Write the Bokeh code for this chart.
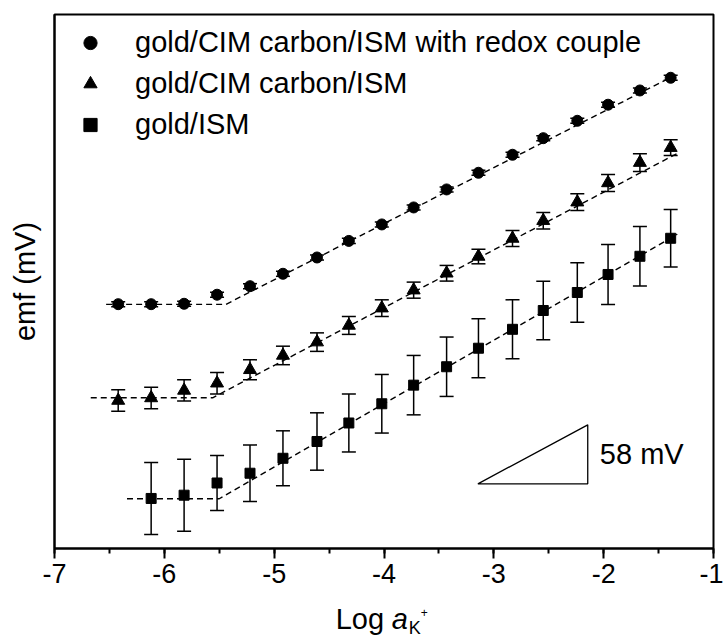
from bokeh.plotting import figure
from bokeh.layouts import column
from bokeh.core.properties import value
from bokeh.models import (ColumnDataSource, Whisker, TeeHead, Label, Legend, LegendItem,
                          Range1d, FixedTicker, SingleIntervalTicker)
from bokeh.embed import file_html
from bokeh.resources import INLINE

FONT = "Liberation Sans"

# ---- data (log a_K+ vs emf in mV, relative) ----
log_a_circle = [-6.42, -6.12, -5.82, -5.52, -5.22, -4.92, -4.61, -4.32, -4.02,
                -3.73, -3.43, -3.14, -2.83, -2.55, -2.24, -1.96, -1.67, -1.39]
emf_circle = [240.2, 240.2, 240.6, 249.5, 257.9, 270.1, 286.1, 302.4, 318.6,
              335.3, 353.0, 369.4, 387.1, 403.4, 420.5, 436.3, 450.3, 462.8]
err_circle = [2.5, 2.5, 2.5, 2.5, 2.5, 2.5, 2.5, 2.5, 2.5,
              2.5, 2.5, 2.5, 2.5, 2.5, 2.5, 2.5, 2.5, 2.5]

log_a_triangle = [-6.42, -6.12, -5.82, -5.52, -5.22, -4.92, -4.61, -4.32, -4.02,
                  -3.73, -3.43, -3.14, -2.83, -2.55, -2.24, -1.96, -1.67, -1.39]
emf_triangle = [145.5, 148.0, 155.4, 162.5, 175.7, 189.8, 202.9, 219.3, 236.3,
                254.0, 270.6, 287.1, 304.8, 322.3, 340.5, 359.4, 379.4, 394.1]
err_triangle = [10.5, 10.6, 10.5, 10.5, 9.8, 9.1, 9.1, 8.8, 8.2,
                7.9, 7.7, 7.2, 7.9, 8.1, 8.2, 8.4, 8.7, 7.7]

log_a_square = [-6.12, -5.82, -5.52, -5.22, -4.92, -4.61, -4.32, -4.02,
                -3.73, -3.43, -3.14, -2.83, -2.55, -2.24, -1.96, -1.67, -1.39]
emf_square = [49.2, 52.4, 64.4, 74.0, 88.7, 105.2, 123.4, 142.3,
              160.6, 178.7, 196.9, 215.5, 234.0, 251.7, 269.4, 287.3, 305.0]
err_square = [35.4, 35.4, 27.0, 27.8, 27.0, 28.2, 28.5, 28.8,
              29.2, 29.2, 29.0, 29.0, 28.8, 29.2, 29.5, 29.3, 28.3]

# fitted (dashed) lines: flat part then Nernstian part
fit_x_circle = [-6.53, -5.44, -1.35]
fit_y_circle = [240.0, 240.0, 465.4]
fit_x_triangle = [-6.67, -5.56, -1.33]
fit_y_triangle = [148.2, 148.2, 388.4]
fit_x_square = [-6.34, -5.50, -1.33]
fit_y_square = [48.9, 48.9, 309.0]

legend_labels = ["gold/CIM carbon/ISM with redox couple", "gold/CIM carbon/ISM", "gold/ISM"]
x_ticks = [-7, -6, -5, -4, -3, -2, -1]

# slope triangle: one decade wide, 58 mV tall
slope_x0 = -3.145
slope_y0 = 63.6
slope_dx = 1.0
slope_mv = 58.0

p = figure(width=723, height=600, x_range=Range1d(-7, -1), y_range=Range1d(0, 525),
           output_backend="svg", toolbar_location=None,
           min_border_left=54, min_border_right=10, min_border_top=14, min_border_bottom=52)
p.xgrid.visible = False
p.ygrid.visible = False
p.outline_line_color = "black"
p.outline_line_width = 2
p.outline_line_alpha = 1.0
p.background_fill_color = "white"
p.border_fill_color = "white"

# x axis
xa = p.xaxis[0]
xa.ticker = SingleIntervalTicker(interval=1, num_minor_ticks=2)
xa.major_label_overrides = {t: str(t) for t in x_ticks}
xa.axis_line_width = 2
xa.major_tick_line_width = 2
xa.minor_tick_line_width = 2
xa.major_tick_out = 10
xa.major_tick_in = 0
xa.minor_tick_out = 5
xa.minor_tick_in = 0
xa.major_label_text_font = FONT
xa.major_label_text_font_size = "27px"
xa.major_label_text_color = "black"
xa.major_label_standoff = 5

# y axis
ya = p.yaxis[0]
ya.ticker = FixedTicker(ticks=[])
ya.axis_line_width = 2
ya.major_tick_line_color = None
ya.minor_tick_line_color = None
ya.axis_label = "emf (mV)"
ya.axis_label_text_font = FONT
ya.axis_label_text_font_size = "29px"
ya.axis_label_text_font_style = "normal"
ya.axis_label_text_color = "black"
ya.axis_label_standoff = 14

# dashed fits
for fx, fy in [(fit_x_circle, fit_y_circle), (fit_x_triangle, fit_y_triangle), (fit_x_square, fit_y_square)]:
    p.line(fx, fy, line_color="black", line_width=1.4, line_dash="6 4")

# error bars + markers
renderers = []
for xs, ys, es, marker, size in [
        (log_a_circle, emf_circle, err_circle, "circle", 11),
        (log_a_triangle, emf_triangle, err_triangle, "triangle", 13),
        (log_a_square, emf_square, err_square, "square", 10)]:
    src = ColumnDataSource(dict(x=xs, y=ys,
                                lower=[y - e for y, e in zip(ys, es)],
                                upper=[y + e for y, e in zip(ys, es)]))
    w = Whisker(source=src, base="x", lower="lower", upper="upper", dimension="height",
                line_color="black", line_width=1.5,
                lower_head=TeeHead(size=14, line_color="black", line_width=1.5),
                upper_head=TeeHead(size=14, line_color="black", line_width=1.5))
    p.add_layout(w)
    r = p.scatter("x", "y", source=src, marker=marker, size=size,
                  fill_color="black", line_color="black")
    renderers.append(r)

legend = Legend(items=[LegendItem(label=lab, renderers=[r]) for lab, r in zip(legend_labels, renderers)],
                location="top_left", margin=12, padding=10, glyph_width=48, glyph_height=33,
                label_height=33, spacing=8, label_standoff=21,
                label_text_font=FONT, label_text_font_size="29px", label_text_color="black",
                border_line_color=None, background_fill_alpha=0)
p.add_layout(legend)

# slope triangle
p.patch([slope_x0, slope_x0 + slope_dx, slope_x0 + slope_dx],
        [slope_y0, slope_y0, slope_y0 + slope_mv],
        fill_alpha=0, line_color="black", line_width=1.3)
p.add_layout(Label(x=slope_x0 + slope_dx + 0.11, y=slope_y0 + slope_mv / 2, text="58 mV",
                   text_font=FONT, text_font_size="29px", text_baseline="middle",
                   text_align="left", text_color="black"))

# x axis title strip: Log a_K+
p2 = figure(width=723, height=40, x_range=p.x_range, y_range=Range1d(0, 1),
            output_backend="svg", toolbar_location=None,
            min_border_left=54, min_border_right=10, min_border_top=0, min_border_bottom=0)
p2.axis.visible = False
p2.xgrid.visible = False
p2.ygrid.visible = False
p2.outline_line_color = None
p2.background_fill_color = "white"
p2.border_fill_color = "white"

tx, ty = -4.44, 0.55
p2.text(x=[tx], y=[ty], text=["Log"], text_font=value(FONT), text_font_size="29px",
        text_baseline="middle", text_align="left", text_color="black")
p2.text(x=[tx], y=[ty], text=["a"], x_offset=56, text_font=value(FONT), text_font_size="29px",
        text_font_style="italic", text_baseline="middle", text_align="left", text_color="black")
p2.text(x=[tx], y=[ty], text=["K"], x_offset=73, y_offset=9, text_font=value(FONT),
        text_font_size="18px", text_baseline="middle", text_align="left", text_color="black")
p2.text(x=[tx], y=[ty], text=["+"], x_offset=85, y_offset=-6, text_font=value(FONT),
        text_font_size="12px", text_baseline="middle", text_align="left", text_color="black")

layout = column(p, p2, spacing=0)
open("out.html", "w").write(file_html(layout, INLINE))
